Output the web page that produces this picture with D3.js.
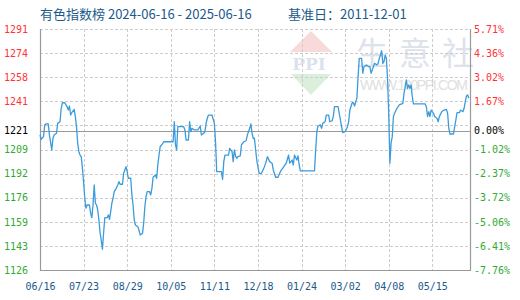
<!DOCTYPE html>
<html lang="zh">
<head>
<meta charset="UTF-8" />
<title>有色指数榜</title>
<script src="https://d3js.org/d3.v7.min.js"></script>
<style>
  body { margin: 0; background: #fff; }
  svg { display: block; }
</style>
</head>
<body>
<svg id="chart" width="520" height="300"></svg>
<script>
  // index values
  const dates = [
    "2024-06-16","2024-06-17","2024-06-19","2024-06-20","2024-06-21","2024-06-23","2024-06-24","2024-06-26","2024-06-27","2024-06-28",
    "2024-06-30","2024-07-01","2024-07-03","2024-07-04","2024-07-05","2024-07-07","2024-07-09","2024-07-10","2024-07-11","2024-07-12",
    "2024-07-13","2024-07-15","2024-07-16","2024-07-17","2024-07-18","2024-07-19","2024-07-20","2024-07-21","2024-07-22","2024-07-23",
    "2024-07-24","2024-07-25","2024-07-26","2024-07-28","2024-07-29","2024-07-30","2024-07-31","2024-08-01","2024-08-02","2024-08-03",
    "2024-08-04","2024-08-05","2024-08-06","2024-08-07","2024-08-08","2024-08-09","2024-08-10","2024-08-12","2024-08-13","2024-08-14",
    "2024-08-15","2024-08-16","2024-08-17","2024-08-18","2024-08-19","2024-08-21","2024-08-22","2024-08-23","2024-08-25","2024-08-26",
    "2024-08-27","2024-08-28","2024-08-29","2024-08-30","2024-09-01","2024-09-02","2024-09-03","2024-09-04","2024-09-05","2024-09-07",
    "2024-09-08","2024-09-09","2024-09-11","2024-09-12","2024-09-13","2024-09-14","2024-09-15","2024-09-17","2024-09-18","2024-09-19",
    "2024-09-20","2024-09-22","2024-09-23","2024-09-24","2024-09-25","2024-09-26","2024-09-28","2024-09-29","2024-10-07","2024-10-08",
    "2024-10-09","2024-10-10","2024-10-11","2024-10-13","2024-10-16","2024-10-17","2024-10-18","2024-10-20","2024-10-21","2024-10-22",
    "2024-10-23","2024-10-25","2024-10-28","2024-10-30","2024-10-31","2024-11-02","2024-11-03","2024-11-04","2024-11-05","2024-11-06",
    "2024-11-09","2024-11-11","2024-11-12","2024-11-13","2024-11-17","2024-11-18","2024-11-19","2024-11-20","2024-11-23","2024-11-24",
    "2024-11-26","2024-11-27","2024-11-28","2024-11-29","2024-11-30","2024-12-01","2024-12-03","2024-12-04","2024-12-06","2024-12-08",
    "2024-12-09","2024-12-11","2024-12-12","2024-12-13","2024-12-14","2024-12-15","2024-12-17","2024-12-19","2024-12-21","2024-12-23",
    "2024-12-25","2024-12-26","2024-12-28","2024-12-30","2024-12-31","2025-01-02","2025-01-04","2025-01-06","2025-01-07","2025-01-09",
    "2025-01-11","2025-01-13","2025-01-14","2025-01-16","2025-01-17","2025-01-18","2025-01-20","2025-01-21","2025-01-22","2025-01-23",
    "2025-02-04","2025-02-05","2025-02-06","2025-02-07","2025-02-09","2025-02-10","2025-02-11","2025-02-13","2025-02-14","2025-02-16",
    "2025-02-17","2025-02-19","2025-02-20","2025-02-21","2025-02-24","2025-02-26","2025-02-27","2025-02-28","2025-03-02","2025-03-04",
    "2025-03-05","2025-03-06","2025-03-08","2025-03-09","2025-03-10","2025-03-12","2025-03-13","2025-03-14","2025-03-16","2025-03-17",
    "2025-03-18","2025-03-20","2025-03-22","2025-03-23","2025-03-24","2025-03-26","2025-03-27","2025-03-29","2025-03-30","2025-03-31",
    "2025-04-01","2025-04-02","2025-04-03","2025-04-04","2025-04-05","2025-04-06","2025-04-07","2025-04-08","2025-04-09","2025-04-10",
    "2025-04-11","2025-04-12","2025-04-13","2025-04-15","2025-04-17","2025-04-20","2025-04-21","2025-04-23","2025-04-24","2025-04-25",
    "2025-04-26","2025-04-27","2025-04-28","2025-04-29","2025-05-09","2025-05-10","2025-05-11","2025-05-12","2025-05-13","2025-05-14",
    "2025-05-16","2025-05-17","2025-05-19","2025-05-20","2025-05-21","2025-05-23","2025-05-25","2025-05-27","2025-05-28","2025-05-29",
    "2025-05-30","2025-06-02","2025-06-03","2025-06-04","2025-06-05","2025-06-07","2025-06-08","2025-06-10","2025-06-11","2025-06-12",
    "2025-06-13","2025-06-14","2025-06-15"
  ];
  const values = [
    1218.4,1215.5,1217.3,1225.3,1226.0,1226.0,1218.4,1208.2,1216.2,1218.4,
    1219.6,1226.4,1227.5,1236.7,1240.5,1240.5,1237.8,1235.5,1238.3,1232.1,
    1233.7,1236.0,1231.0,1224.1,1212.8,1207.0,1204.7,1203.6,1195.6,1186.5,
    1175.1,1168.3,1170.5,1170.5,1164.8,1161.8,1170.5,1184.2,1171.7,1170.5,
    1167.1,1160.2,1151.5,1146.5,1140.2,1151.5,1161.8,1161.8,1163.7,1160.7,
    1165.9,1171.7,1175.1,1179.6,1180.8,1184.2,1186.5,1184.7,1184.7,1192.2,
    1194.5,1196.7,1193.3,1188.8,1188.8,1177.4,1170.5,1160.2,1156.8,1155.6,
    1153.4,1150.0,1151.1,1158.0,1169.3,1176.2,1179.6,1179.6,1177.4,1181.9,
    1189.5,1191.0,1188.8,1197.9,1204.7,1210.4,1212.3,1213.8,1213.8,1227.5,
    1211.6,1208.2,1224.1,1224.1,1224.1,1221.9,1215.0,1215.0,1227.5,1220.7,
    1223.0,1221.9,1221.9,1224.6,1218.4,1219.6,1220.7,1226.4,1229.9,1232.1,
    1232.1,1226.4,1213.8,1193.3,1193.3,1188.1,1200.2,1204.7,1204.7,1209.3,
    1207.0,1200.2,1208.2,1204.1,1202.5,1203.6,1204.1,1211.6,1213.8,1214.5,
    1218.4,1223.0,1226.0,1219.6,1216.2,1216.2,1201.3,1192.2,1192.2,1195.6,
    1200.2,1203.6,1200.2,1199.1,1194.5,1189.5,1189.5,1193.3,1194.5,1196.7,
    1199.1,1204.7,1199.1,1201.3,1197.9,1204.7,1201.3,1204.1,1197.9,1193.8,
    1193.8,1208.2,1220.7,1224.6,1225.3,1223.0,1226.4,1227.5,1232.1,1232.1,
    1227.5,1228.2,1231.4,1237.8,1237.8,1228.7,1224.1,1220.0,1220.7,1224.1,
    1227.5,1235.5,1240.5,1240.5,1238.3,1243.8,1258.3,1270.9,1270.9,1260.7,
    1265.2,1266.4,1265.2,1265.2,1260.7,1265.2,1267.5,1266.4,1267.5,1270.9,
    1273.2,1276.1,1267.5,1268.6,1273.2,1270.9,1257.3,1233.3,1199.1,1212.8,
    1217.3,1231.1,1233.3,1236.7,1239.0,1240.1,1247.0,1256.1,1250.4,1252.7,
    1250.4,1252.7,1244.7,1239.7,1239.7,1237.4,1231.1,1234.4,1231.1,1235.5,
    1233.3,1231.1,1229.9,1227.5,1231.0,1234.4,1235.5,1236.0,1233.3,1223.0,
    1219.1,1219.1,1224.1,1228.7,1233.7,1233.7,1235.5,1234.4,1236.7,1241.2,
    1245.1,1245.8,1243.6
  ];

  const baseValue = 1221;
  const yTickValues = [1126, 1142.5, 1159, 1175.5, 1192, 1208.5, 1225, 1241.5, 1258, 1274.5, 1291];
  const yLeftLabels = ["1126", "1143", "1159", "1176", "1192", "1209", "", "1241", "1258", "1274", "1291"];
  const yRightLabels = ["-7.76%", "-6.41%", "-5.06%", "-3.72%", "-2.37%", "-1.02%", "", "1.67%", "3.02%", "4.36%", "5.71%"];
  const xTickDates = ["2024-06-16", "2024-07-23", "2024-08-29", "2024-10-05", "2024-11-11",
                      "2024-12-18", "2025-01-24", "2025-03-02", "2025-04-08", "2025-05-15"];
  const xTickLabels = ["06/16", "07/23", "08/29", "10/05", "11/11", "12/18", "01/24", "03/02", "04/08", "05/15"];
  const watermarkChars = ["生", "意", "社"];

  const parse = d3.utcParse("%Y-%m-%d");
  const data = dates.map((d, i) => ({ date: parse(d), value: values[i] }));

  const svg = d3.select("#chart");
  const margin = { top: 29, right: 50, bottom: 30, left: 40 };
  const width = 520, height = 300;

  const x = d3.scaleUtc()
    .domain([parse("2024-06-16"), parse("2025-06-16")])
    .range([margin.left, width - margin.right]);
  const y = d3.scaleLinear()
    .domain([1126, 1291])
    .range([height - margin.bottom, margin.top]);

  const red = "#ff3333", green = "#33aa33", blue = "#1a5a8c";
  const monoFont = "'DejaVu Sans Mono', monospace";

  // title
  svg.append("text").attr("x", 40).attr("y", 19)
    .attr("font-family", "'Noto Sans CJK SC', sans-serif").attr("font-size", 13)
    .attr("fill", blue).text("有色指数榜 2024-06-16 - 2025-06-16");
  svg.append("text").attr("x", 288).attr("y", 19)
    .attr("font-family", "'Noto Sans CJK SC', sans-serif").attr("font-size", 13)
    .attr("fill", blue).text("基准日：2011-12-01");

  // watermark
  const wm = svg.append("g");
  wm.append("path").attr("d", "M290,52 L311,31 L332,52 Z").attr("fill", "#f8dada");
  wm.append("path").attr("d", "M291,74 L331,74 L311,95 Z").attr("fill", "#dcefdc");
  wm.append("text").attr("x", 309).attr("y", 70).attr("text-anchor", "middle")
    .attr("font-family", "'DejaVu Serif', serif").attr("font-weight", "bold")
    .attr("font-size", 17).attr("fill", "#dbe2ee").text("PPI");
  wm.selectAll("text.wmc")
    .data(watermarkChars)
    .join("text")
    .attr("class", "wmc")
    .attr("x", (d, i) => 372 + i * 43).attr("y", 65)
    .attr("text-anchor", "middle")
    .attr("font-family", "'Noto Sans CJK SC', sans-serif").attr("font-size", 32)
    .attr("fill", "#dde2eb").text((d) => d);
  wm.append("text").attr("x", 360).attr("y", 90)
    .attr("font-family", "'Liberation Sans', sans-serif").attr("font-size", 14)
    .attr("textLength", 108).attr("fill", "#e0e0e0").text("WWW.100PPI.COM");

  // grid
  const grid = svg.append("g")
    .attr("stroke", "#cccccc").attr("stroke-dasharray", "3,2").attr("stroke-width", 1);
  grid.selectAll("line.h")
    .data(yTickValues.slice(1))
    .join("line")
    .attr("x1", margin.left).attr("x2", width - margin.right)
    .attr("y1", (d) => Math.round(y(d)) + 0.5).attr("y2", (d) => Math.round(y(d)) + 0.5);
  grid.selectAll("line.v")
    .data(xTickDates.slice(1))
    .join("line")
    .attr("x1", (d) => Math.round(x(parse(d))) + 0.5).attr("x2", (d) => Math.round(x(parse(d))) + 0.5)
    .attr("y1", margin.top).attr("y2", height - margin.bottom);

  // frame + base line
  const yb = height - margin.bottom;
  svg.append("path")
    .attr("d", `M${margin.left + 0.5},${margin.top}V${yb + 0.5}H${width - margin.right + 0.5}V${margin.top}`)
    .attr("fill", "none").attr("stroke", "#999").attr("stroke-width", 1.2);
  svg.append("line")
    .attr("x1", margin.left).attr("x2", width - margin.right)
    .attr("y1", Math.round(y(baseValue)) + 0.5).attr("y2", Math.round(y(baseValue)) + 0.5)
    .attr("stroke", "#999").attr("stroke-width", 1.2);

  // series
  const line = d3.line().x((d) => x(d.date)).y((d) => y(d.value));
  svg.append("path").datum(data)
    .attr("fill", "none").attr("stroke", "#3b9bdb").attr("stroke-width", 1.3)
    .attr("stroke-linejoin", "round").attr("d", line);

  // axes
  const colorFor = (v) => (v > baseValue ? red : green);

  const leftAxis = svg.append("g").attr("transform", `translate(${margin.left},0)`)
    .call(d3.axisLeft(y).tickValues(yTickValues).tickFormat((d, i) => yLeftLabels[i])
      .tickSize(0).tickPadding(12));
  const rightAxis = svg.append("g").attr("transform", `translate(${width - margin.right},0)`)
    .call(d3.axisRight(y).tickValues(yTickValues).tickFormat((d, i) => yRightLabels[i])
      .tickSize(0).tickPadding(4));
  [leftAxis, rightAxis].forEach((g) => {
    g.select(".domain").remove();
    g.selectAll("text").attr("font-family", monoFont).attr("font-size", 10)
      .attr("fill", (d) => colorFor(d));
  });

  // base value labels
  leftAxis.append("text").attr("x", -12).attr("y", y(baseValue)).attr("dy", "0.32em")
    .attr("text-anchor", "end").attr("font-family", monoFont).attr("font-size", 10)
    .attr("fill", "#000").text(String(baseValue));
  rightAxis.append("text").attr("x", 4).attr("y", y(baseValue)).attr("dy", "0.32em")
    .attr("text-anchor", "start").attr("font-family", monoFont).attr("font-size", 10)
    .attr("fill", "#000").text("0.00%");

  const bottomAxis = svg.append("g").attr("transform", `translate(0,${yb})`)
    .call(d3.axisBottom(x).tickValues(xTickDates.map(parse)).tickFormat((d, i) => xTickLabels[i])
      .tickSize(0).tickPadding(13));
  bottomAxis.select(".domain").remove();
  bottomAxis.selectAll("text").attr("font-family", monoFont).attr("font-size", 10).attr("fill", blue);
</script>
</body>
</html>
